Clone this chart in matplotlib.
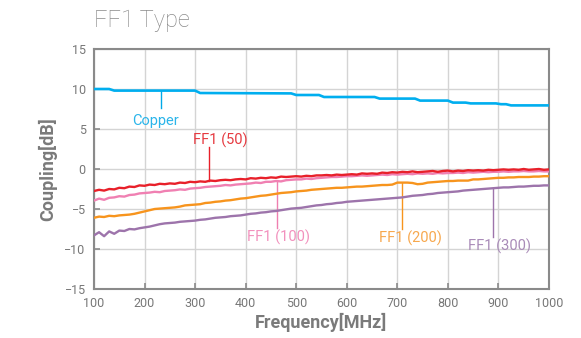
import numpy as np
import matplotlib
matplotlib.use("Agg")
import matplotlib.pyplot as plt

freq = np.arange(100, 1001, 10)

copper_freq = [100, 130, 140, 300, 310, 490, 500, 545, 555, 655, 665, 735, 745,
               800, 810, 835, 845, 895, 905, 915, 925, 1000]
copper_val = [10.0, 10.0, 9.8, 9.8, 9.5, 9.45, 9.25, 9.25, 9.0, 9.0, 8.8, 8.8, 8.55,
              8.55, 8.3, 8.3, 8.2, 8.2, 8.1, 8.1, 7.95, 7.95]

ff1_50 = [-2.75, -2.6, -2.7, -2.5, -2.55, -2.35, -2.4, -2.2, -2.25, -2.05, -2.1,
          -1.95, -2.0, -1.85, -1.9, -1.8, -1.85, -1.7, -1.75, -1.6, -1.65,
          -1.55, -1.6, -1.45, -1.5, -1.4, -1.35, -1.4, -1.3, -1.25, -1.3,
          -1.15, -1.2, -1.1, -1.15, -1.05, -1.1, -0.95, -1.0, -0.95, -0.9,
          -0.95, -0.85, -0.9, -0.8, -0.8, -0.75, -0.8, -0.7, -0.75, -0.7,
          -0.65, -0.7, -0.55, -0.6, -0.55, -0.6, -0.45, -0.5, -0.4, -0.45,
          -0.35, -0.4, -0.3, -0.4, -0.35, -0.3, -0.25, -0.35, -0.25, -0.2,
          -0.3, -0.2, -0.25, -0.15, -0.2, -0.15, -0.2, -0.1, -0.15, -0.1,
          -0.05, -0.1, -0.05, -0.1, 0.0, -0.1, -0.05, 0.0, -0.1, -0.05]

ff1_100 = [-3.95, -3.7, -3.85, -3.6, -3.55, -3.4, -3.45, -3.25, -3.2, -3.05, -3.0,
           -2.95, -2.85, -2.9, -2.75, -2.7, -2.65, -2.55, -2.6, -2.45, -2.4,
           -2.35, -2.25, -2.2, -2.15, -2.1, -2.0, -2.05, -1.95, -1.9, -1.85,
           -1.8, -1.7, -1.75, -1.6, -1.6, -1.5, -1.55, -1.4, -1.35, -1.3,
           -1.3, -1.2, -1.25, -1.15, -1.1, -1.05, -1.0, -1.0, -0.95, -0.9,
           -0.9, -0.85, -0.8, -0.85, -0.8, -0.75, -0.7, -0.75, -0.65, -0.7,
           -0.65, -0.6, -0.65, -0.55, -0.6, -0.55, -0.6, -0.5, -0.55, -0.5,
           -0.5, -0.45, -0.5, -0.4, -0.45, -0.4, -0.35, -0.4, -0.35, -0.35,
           -0.3, -0.35, -0.3, -0.3, -0.25, -0.3, -0.3, -0.25, -0.3, -0.3]

ff1_200 = [-6.1, -5.95, -6.0, -5.85, -5.9, -5.8, -5.75, -5.7, -5.6, -5.45, -5.3,
           -5.15, -5.0, -4.95, -4.9, -4.85, -4.8, -4.7, -4.55, -4.5, -4.45,
           -4.4, -4.25, -4.2, -4.1, -4.05, -3.95, -3.9, -3.8, -3.7, -3.65,
           -3.55, -3.45, -3.35, -3.3, -3.2, -3.1, -3.0, -2.95, -2.9, -2.8,
           -2.75, -2.7, -2.6, -2.55, -2.5, -2.45, -2.4, -2.35, -2.35, -2.3,
           -2.25, -2.2, -2.2, -2.15, -2.1, -2.05, -2.0, -2.0, -1.95, -1.7,
           -1.7, -1.7, -1.75, -1.9, -1.85, -1.7, -1.65, -1.6, -1.55, -1.5,
           -1.5, -1.45, -1.45, -1.45, -1.3, -1.3, -1.25, -1.2, -1.15, -1.1,
           -1.1, -1.05, -1.05, -1.0, -1.0, -1.0, -0.95, -0.95, -0.9, -0.9]

ff1_300 = [-8.3, -7.9, -8.4, -7.8, -8.1, -7.7, -7.75, -7.5, -7.55, -7.4, -7.3,
           -7.2, -7.05, -6.9, -6.8, -6.75, -6.7, -6.6, -6.55, -6.5, -6.45,
           -6.35, -6.3, -6.2, -6.1, -6.05, -6.0, -5.9, -5.85, -5.8, -5.7,
           -5.6, -5.55, -5.45, -5.4, -5.3, -5.25, -5.15, -5.05, -4.95, -4.9,
           -4.85, -4.75, -4.65, -4.55, -4.5, -4.4, -4.35, -4.25, -4.2, -4.1,
           -4.05, -4.0, -3.95, -3.9, -3.85, -3.8, -3.75, -3.7, -3.65, -3.6,
           -3.55, -3.45, -3.35, -3.3, -3.25, -3.15, -3.1, -3.0, -2.95, -2.9,
           -2.85, -2.8, -2.7, -2.65, -2.6, -2.55, -2.5, -2.45, -2.4, -2.35,
           -2.3, -2.3, -2.25, -2.2, -2.2, -2.15, -2.1, -2.1, -2.05, -2.05]

x_ticks = [100, 200, 300, 400, 500, 600, 700, 800, 900, 1000]
y_ticks = [-15, -10, -5, 0, 5, 10, 15]

# label text, colour, line colour, leader x, leader y0, leader y1, text x, text y
labels = [
    ("Copper", "#2bb5ea", "#00a9e8", 232, 9.8, 7.6, 222, 6.0),
    ("FF1 (50)", "#e63a40", "#e8202a", 327, 2.75, -1.55, 349, 3.55),
    ("FF1 (100)", "#f291bd", "#ef7fb0", 462, -1.55, -7.4, 464, -8.6),
    ("FF1 (200)", "#f7a84e", "#f7941d", 709, -1.7, -7.5, 725, -8.7),
    ("FF1 (300)", "#a98bb8", "#9d74ab", 889, -2.4, -8.5, 903, -9.7),
]

plt.rcParams['font.family'] = ['Roboto', 'DejaVu Sans']
fig = plt.figure(figsize=(5.81, 3.38), dpi=100)
ax = fig.add_axes([94/581, 1-289/338, (549-94)/581, (289-49)/338])

ax.plot(copper_freq, copper_val, color="#00aeef", lw=1.9, zorder=3)
ax.plot(freq, ff1_300, color="#9d74ab", lw=1.7, zorder=3)
ax.plot(freq, ff1_200, color="#f7941d", lw=1.7, zorder=3)
ax.plot(freq, ff1_100, color="#f080b2", lw=1.7, zorder=3)
ax.plot(freq, ff1_50, color="#e8202a", lw=1.7, zorder=4)

for txt, tc, lc, lx, y0, y1, tx, ty in labels:
    ax.plot([lx, lx], [y0, y1], color=lc, lw=1.0, zorder=2)
    ax.text(tx, ty, txt, color=tc, fontsize=10.5, ha="center", va="center", zorder=5)

ax.set_xlim(100, 1000)
ax.set_ylim(-15, 15)
ax.set_xticks(x_ticks)
ax.set_yticks(y_ticks)
ax.grid(True, color="#d4d4d4", lw=1.0, zorder=0)
ax.set_axisbelow(True)
for s in ax.spines.values():
    s.set_color("#8a8a8a")
    s.set_linewidth(1.5)
ax.tick_params(direction="in", length=4, width=1.2, color="#8a8a8a",
               labelcolor="#777777", labelsize=9, pad=6)
ax.set_xlabel("Frequency[MHz]", fontsize=13, fontweight="bold", color="#7a7a7a", labelpad=2)
ax.set_ylabel("Coupling[dB]", fontsize=13, fontweight="bold", color="#7a7a7a", labelpad=5)
fig.text(94/581, 1-21/338, "FF1 Type", fontsize=17, fontweight="light",
         color="#8a8a8a", ha="left", va="center")

fig.savefig("out.png", dpi=100)
